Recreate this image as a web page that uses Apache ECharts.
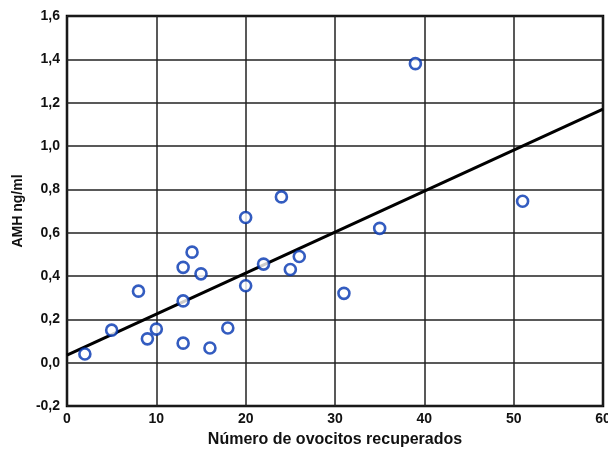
<!DOCTYPE html>
<html>
<head>
<meta charset="utf-8">
<script src="https://cdn.jsdelivr.net/npm/echarts@6/dist/echarts.min.js"></script>
<style>
html, body { margin: 0; padding: 0; background: #fff; }
#chart { width: 608px; height: 452px; }
</style>
</head>
<body>
<div id="chart"></div>
<script>
// oocytes retrieved vs AMH (ng/ml)
var ovocitos = [2, 5, 8, 9, 10, 13, 13, 13, 14, 15, 16, 18, 20, 20, 22, 24, 25, 26, 31, 35, 39, 51];
var amh = [0.04, 0.15, 0.33, 0.11, 0.155, 0.44, 0.285, 0.09, 0.51, 0.41, 0.068, 0.16, 0.67, 0.355, 0.455, 0.765, 0.43, 0.49, 0.32, 0.62, 1.38, 0.745];
// fitted regression line, end points
var lineX = [0, 60];
var lineY = [0.035, 1.17];

var font = '"Liberation Sans Narrow", "Liberation Sans", Arial, sans-serif';

var puntos = ovocitos.map(function(x, i) { return [x, amh[i]]; });
var recta = lineX.map(function(x, i) { return [x, lineY[i]]; });

var chart = echarts.init(document.getElementById('chart'));
chart.setOption({
	animation: false,
	backgroundColor: '#fff',
	grid: {
		left: 67, right: 5, top: 16, bottom: 46,
		outerBoundsMode: 'none',
		show: true, borderColor: '#000', borderWidth: 2.5
	},
	xAxis: {
		type: 'value', min: 0, max: 60, interval: 10,
		name: 'Número de ovocitos recuperados',
		nameLocation: 'middle', nameGap: 26,
		nameTextStyle: { fontFamily: 'Arial, "Liberation Sans", sans-serif', fontWeight: 'bold', fontSize: 16, color: '#111' },
		axisLine: { show: false },
		axisTick: { show: false },
		axisLabel: { fontFamily: font, fontWeight: 'bold', fontSize: 14, color: '#111', margin: 6 },
		splitLine: { lineStyle: { color: '#222', width: 1.5 } }
	},
	yAxis: {
		type: 'value', min: -0.2, max: 1.6, interval: 0.2,
		name: 'AMH ng/ml',
		nameLocation: 'middle', nameGap: 42,
		nameTextStyle: { fontFamily: 'Arial, "Liberation Sans", sans-serif', fontWeight: 'bold', fontSize: 14, color: '#111' },
		axisLine: { show: false },
		axisTick: { show: false },
		axisLabel: {
			fontFamily: font, fontWeight: 'bold', fontSize: 14, color: '#111', margin: 7,
			formatter: function(v) { return v.toFixed(1).replace('.', ','); }
		},
		splitLine: { lineStyle: { color: '#222', width: 1.5 } }
	},
	series: [
		{
			type: 'line',
			data: recta,
			symbol: 'none',
			lineStyle: { color: '#000', width: 3 },
			z: 3
		},
		{
			type: 'scatter',
			data: puntos,
			symbol: 'circle',
			symbolSize: 11,
			itemStyle: { color: '#fff', borderColor: '#0033b0', borderWidth: 2.6 },
			z: 4
		}
	]
});
</script>
</body>
</html>
